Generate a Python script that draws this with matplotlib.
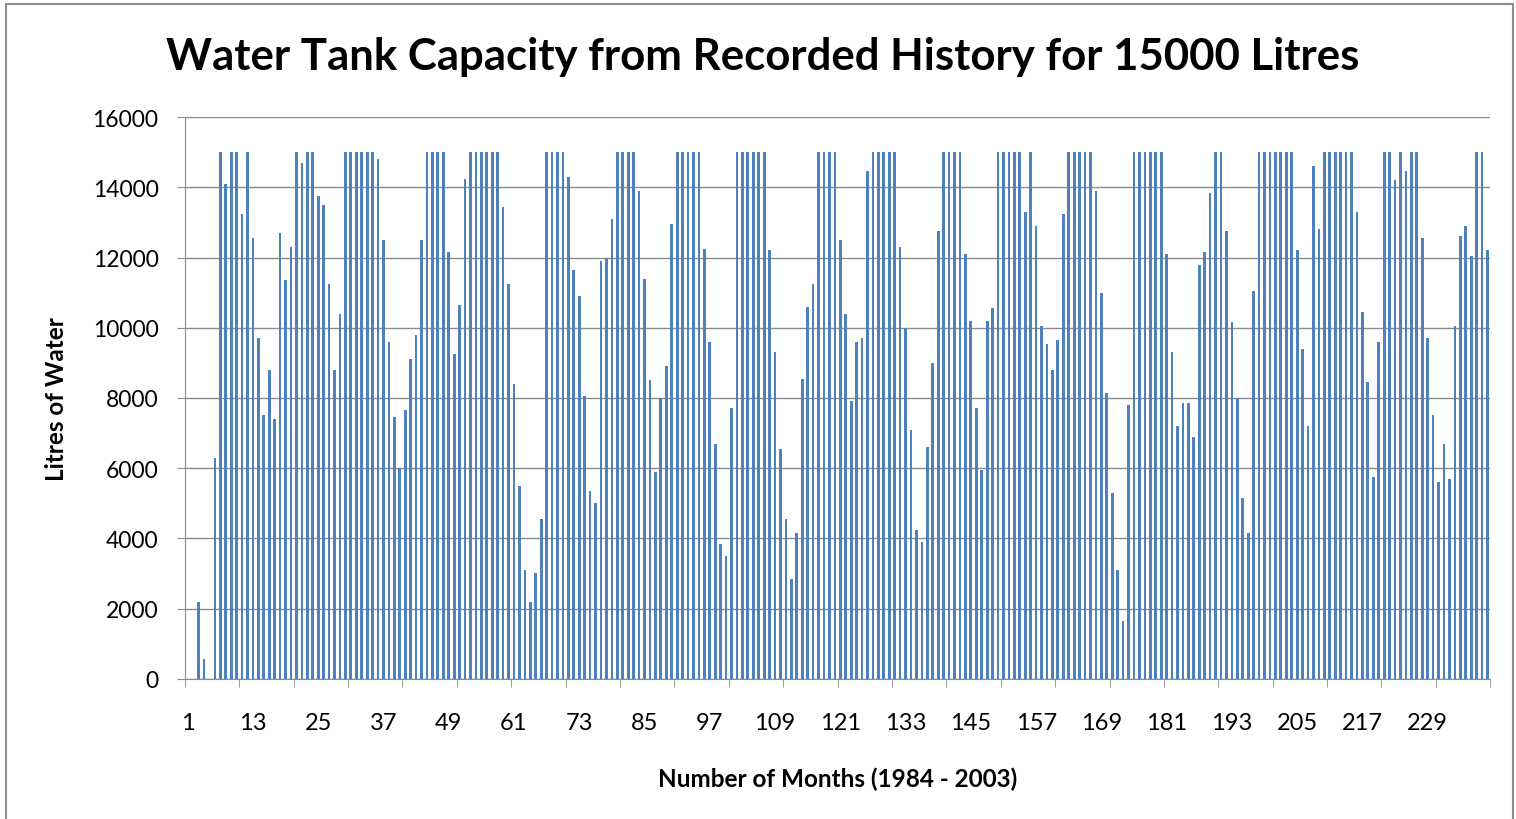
import matplotlib
matplotlib.use("Agg")
import matplotlib.pyplot as plt
from matplotlib.patches import Rectangle

# monthly tank level in litres, months 1..240 (1984 - 2003)
litres = [
    0, 0, 2200, 550, 0, 6300, 15000, 14100, 15000, 15000,
    13250, 15000, 12550, 9700, 7500, 8800, 7400, 12700, 11350, 12300,
    15000, 14700, 15000, 15000, 13750, 13500, 11250, 8800, 10400, 15000,
    15000, 15000, 15000, 15000, 15000, 14800, 12500, 9600, 7450, 6000,
    7650, 9100, 9800, 12500, 15000, 15000, 15000, 15000, 12150, 9250,
    10650, 14250, 15000, 15000, 15000, 15000, 15000, 15000, 13450, 11250,
    8400, 5500, 3100, 2200, 3000, 4550, 15000, 15000, 15000, 15000,
    14300, 11650, 10900, 8050, 5350, 5000, 11900, 12000, 13100, 15000,
    15000, 15000, 15000, 13900, 11400, 8500, 5900, 8000, 8900, 12950,
    15000, 15000, 15000, 15000, 15000, 12250, 9600, 6700, 3850, 3500,
    7700, 15000, 15000, 15000, 15000, 15000, 15000, 12200, 9300, 6550,
    4550, 2850, 4150, 8550, 10600, 11250, 15000, 15000, 15000, 15000,
    12500, 10400, 7900, 9600, 9700, 14450, 15000, 15000, 15000, 15000,
    15000, 12300, 10000, 7100, 4250, 3900, 6600, 9000, 12750, 15000,
    15000, 15000, 15000, 12100, 10200, 7700, 5950, 10200, 10550, 15000,
    15000, 15000, 15000, 15000, 13300, 15000, 12900, 10050, 9550, 8800,
    9650, 13250, 15000, 15000, 15000, 15000, 15000, 13900, 11000, 8150,
    5300, 3100, 1650, 7800, 15000, 15000, 15000, 15000, 15000, 15000,
    12100, 9300, 7200, 7850, 7850, 6900, 11800, 12150, 13850, 15000,
    15000, 12750, 10150, 8000, 5150, 4150, 11050, 15000, 15000, 15000,
    15000, 15000, 15000, 15000, 12200, 9400, 7200, 14600, 12800, 15000,
    15000, 15000, 15000, 15000, 15000, 13300, 10450, 8450, 5750, 9600,
    15000, 15000, 14200, 15000, 14450, 15000, 15000, 12550, 9700, 7500,
    5600, 6700, 5700, 10050, 12600, 12900, 12050, 15000, 15000, 12200,
]
months = list(range(1, len(litres) + 1))
month_labels = list(range(1, 241, 12))

plt.rcParams['font.family'] = ['Lato', 'DejaVu Sans']

fig = plt.figure(figsize=(15.16, 8.2), dpi=100)
ax = fig.add_axes([0.122, 0.171, 0.861, 0.685])

# chart area border like the spreadsheet chart
fig.patches.append(Rectangle((0.004, -0.01), 0.994, 1.004, transform=fig.transFigure,
                             fill=False, edgecolor="#8c8c8c", linewidth=1.5))

ax.bar(months, litres, width=0.5, color="#4f81bd", zorder=3)

ax.set_xlim(0.5, 240.5)
ax.set_ylim(0, 16000)
ax.set_yticks(range(0, 16001, 2000))
ax.yaxis.grid(True, color="#8c8c8c", linewidth=1.0, zorder=0)

ax.set_xticks(month_labels)
ax.set_xticklabels([str(m) for m in month_labels])
ax.set_xticks([0.5 + 10 * k for k in range(25)], minor=True)
ax.tick_params(axis="x", which="major", length=0, pad=24, labelsize=17)
ax.tick_params(axis="x", which="minor", length=6, color="#8c8c8c", direction="out")
ax.tick_params(axis="y", length=6, color="#8c8c8c", labelsize=16.5, pad=13)

for side in ["top", "right"]:
    ax.spines[side].set_visible(False)
for side in ["left", "bottom"]:
    ax.spines[side].set_color("#8c8c8c")

ax.set_xlabel("Number of Months (1984 - 2003)", fontsize=17.5, fontweight="bold", labelpad=24)
ax.set_ylabel("Litres of Water", fontsize=17.5, fontweight="bold", labelpad=18)
fig.text(0.503, 0.93, "Water Tank Capacity from Recorded History for 15000 Litres",
         ha="center", va="center", fontsize=31.5, fontweight="bold")

fig.savefig("out.png", dpi=100)
